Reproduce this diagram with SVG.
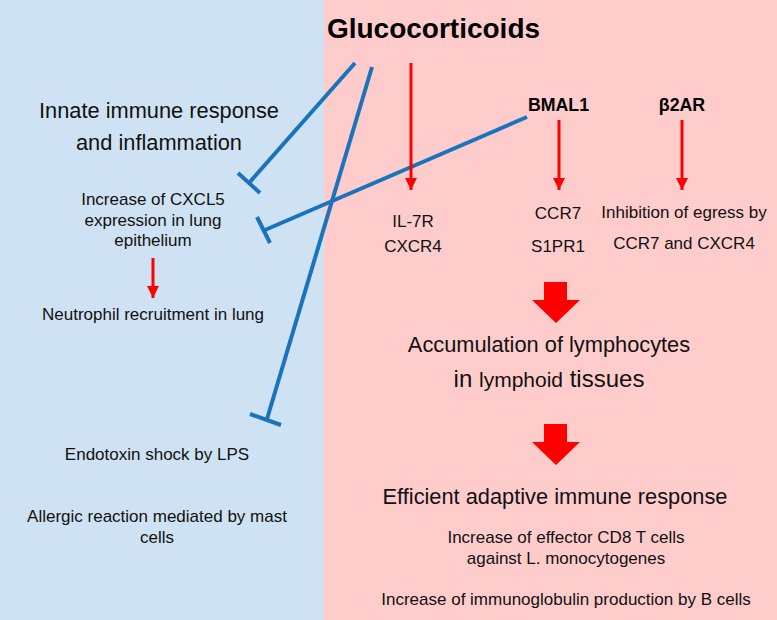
<svg xmlns="http://www.w3.org/2000/svg" width="777" height="620" viewBox="0 0 777 620">
<defs>
<style>
text{font-family:"Liberation Sans",Arial,sans-serif;fill:#111;text-anchor:middle}
.t14{font-size:17px}
.t20{font-size:21.8px}
.b{font-weight:bold;fill:#000}
.inh{stroke:#1a73bd;stroke-width:4;fill:none}
.act{stroke:#ff0000;stroke-width:3;fill:none}
.big{fill:#ff0000}
</style>
<marker id="ah" viewBox="0 0 10 10" refX="10" refY="5" markerWidth="4" markerHeight="4.2" orient="auto" markerUnits="strokeWidth">
<path d="M0,0 L10,5 L0,10 Z" fill="#ff0000"/>
</marker>
</defs>
<g id="background">
<rect x="0" y="0" width="324" height="620" fill="#cfe2f3"/>
<rect x="324" y="0" width="453" height="620" fill="#ffcccc"/>
</g>
<g id="glucocorticoids"><text x="433.5" y="38" class="b" style="font-size:28px">Glucocorticoids</text></g>
<g id="bmal1"><text x="558.5" y="111" class="b" style="font-size:17.8px">BMAL1</text></g>
<g id="b2ar"><text x="682" y="111" class="b" style="font-size:17.8px">β2AR</text></g>
<g id="innate"><text x="159" y="118" class="t20">Innate immune response</text><text x="159" y="150" class="t20">and inflammation</text></g>
<g id="cxcl5"><text x="153" y="205" class="t14">Increase of CXCL5</text><text x="153" y="226" class="t14">expression in lung</text><text x="153" y="246" class="t14">epithelium</text></g>
<g id="neutrophil"><text x="153" y="320" class="t14">Neutrophil recruitment in lung</text></g>
<g id="endotoxin"><text x="157" y="460" class="t14">Endotoxin shock by LPS</text></g>
<g id="allergic"><text x="157" y="522" class="t14">Allergic reaction mediated by mast</text><text x="157" y="543" class="t14">cells</text></g>
<g id="il7r"><text x="413" y="227" class="t14">IL-7R</text><text x="413" y="252" class="t14">CXCR4</text></g>
<g id="ccr7"><text x="558" y="219" class="t14">CCR7</text><text x="558" y="252" class="t14">S1PR1</text></g>
<g id="egress"><text x="684" y="218" class="t14">Inhibition of egress by</text><text x="684" y="249" class="t14">CCR7 and CXCR4</text></g>
<g id="accumulation"><text x="549" y="352" class="t20">Accumulation of lymphocytes</text><text x="549" y="387" style="font-size:24px">in <tspan style="font-size:21px">lymphoid</tspan> tissues</text></g>
<g id="efficient"><text x="555" y="504" class="t20">Efficient adaptive immune response</text></g>
<g id="cd8"><text x="566" y="543" class="t14">Increase of effector CD8 T cells</text><text x="566" y="564" class="t14">against L. monocytogenes</text></g>
<g id="ig"><text x="566" y="605" class="t14">Increase of immunoglobulin production by B cells</text></g>
<g id="connectors">
<line class="inh" x1="355" y1="63" x2="249" y2="183"/>
<line class="inh" x1="238" y1="173" x2="260" y2="193"/>
<line class="inh" x1="372" y1="67" x2="267" y2="419"/>
<line class="inh" x1="250" y1="414" x2="281" y2="425"/>
<line class="inh" x1="527" y1="117" x2="265" y2="230"/>
<line class="inh" x1="257" y1="217" x2="270" y2="243"/>
<line class="act" x1="411" y1="63" x2="411" y2="190" marker-end="url(#ah)"/>
<line class="act" x1="559" y1="120" x2="559" y2="190" marker-end="url(#ah)"/>
<line class="act" x1="682" y1="120" x2="682" y2="190" marker-end="url(#ah)"/>
<line class="act" x1="153" y1="258" x2="153" y2="298" marker-end="url(#ah)"/>
<path class="big" d="M544,282 H567 V300 H580 L556,323 L532,300 H544 Z"/>
<path class="big" d="M544,424 H567 V442 H580 L556,465 L532,442 H544 Z"/>
</g>
</svg>
